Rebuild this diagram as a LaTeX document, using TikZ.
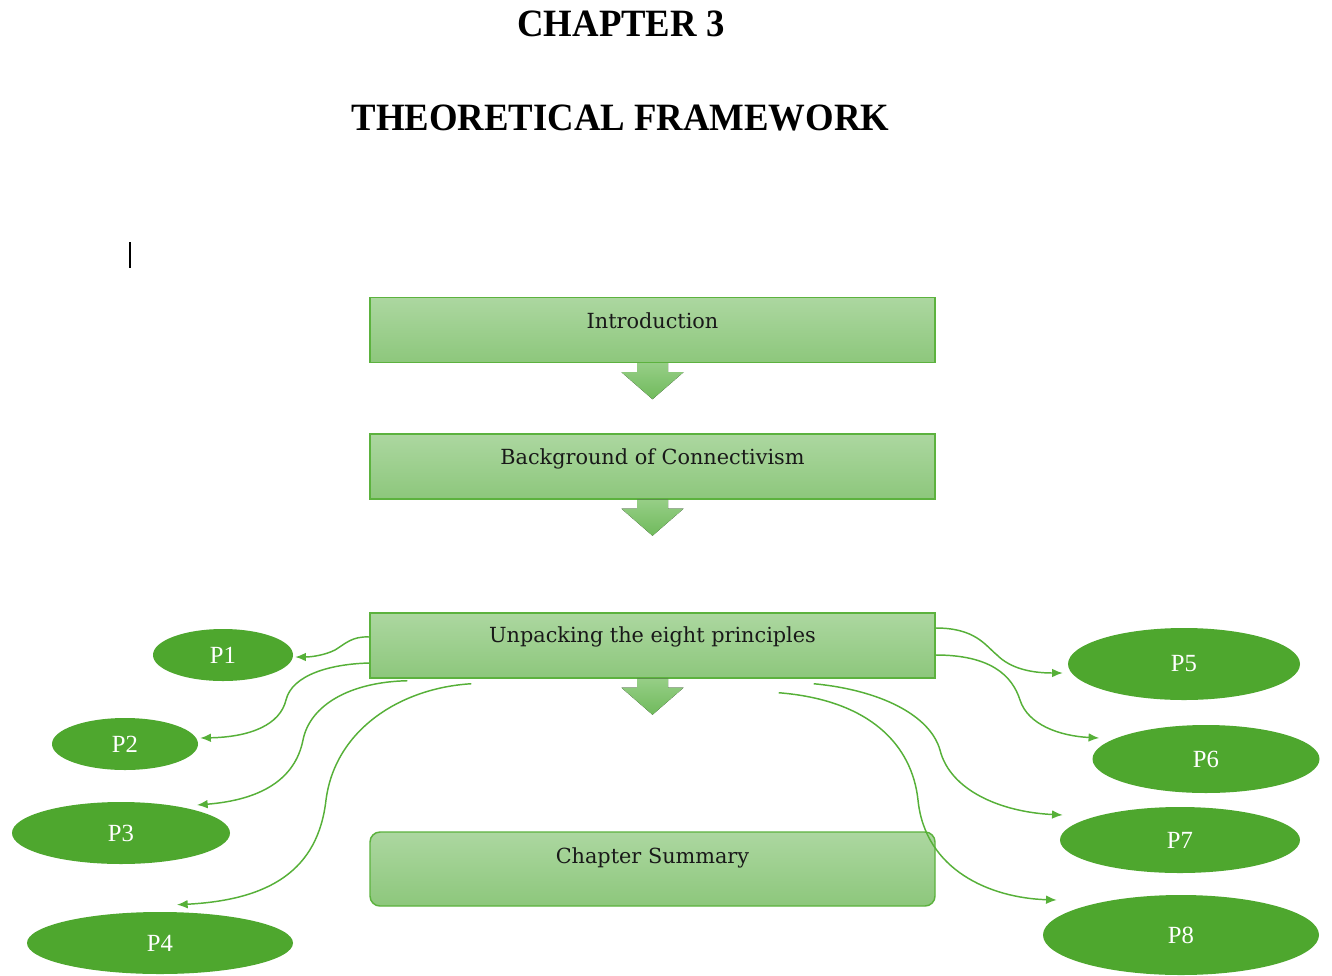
\documentclass[tikz,border=0pt]{standalone}
\usepackage{fontspec}
\setmainfont{Liberation Serif}
\newfontfamily\boxfont{DejaVu Serif}
\usetikzlibrary{arrows.meta,shapes.geometric,calc}
\definecolor{boxtop}{RGB}{172,215,160}
\definecolor{boxbot}{RGB}{141,199,124}
\definecolor{boxline}{RGB}{92,178,62}
\definecolor{ellfill}{RGB}{78,167,46}
\definecolor{conn}{RGB}{86,176,56}
\definecolor{arrtop}{RGB}{150,206,134}
\definecolor{arrbot}{RGB}{112,186,92}
\begin{document}
\begin{tikzpicture}[x=0.75pt,y=-0.75pt,
  pbox/.style={rectangle, draw=boxline, line width=1.1pt, top color=boxtop, bottom color=boxbot,
    minimum width=423.75pt, minimum height=48.75pt, inner sep=0pt},
  boxtext/.style={anchor=base, inner sep=0pt, text=black!90, font=\boxfont\fontsize{15.6}{18}\selectfont},
  titletext/.style={anchor=base, inner sep=0pt, font=\bfseries\fontsize{29}{34}\selectfont},
  pell/.style 2 args={ellipse, fill=ellfill, draw=none, inner sep=0pt,
    minimum width=#1*0.75pt, minimum height=#2*0.75pt, text=white,
    font=\fontsize{18.5}{20}\selectfont},
  conline/.style={draw=conn, line width=1.1pt, -{Latex[length=8pt,width=6.5pt]}},
  blockarrow/.style={top color=arrtop, bottom color=arrbot, draw=none}
]
\fill[white] (0,0) rectangle (1332,975);

% titles
\node[titletext] (title1) at (621,36) {\scalebox{0.95}[1]{CHAPTER 3}};
\node[titletext] (title2) at (620.5,130) {\scalebox{0.95}[1]{THEORETICAL FRAMEWORK}};

% text cursor mark
\draw[black, line width=1.4pt] (130,242) -- (130,268);

% boxes
\node[pbox] (b1) at (652.5,330) {};
\node[pbox] (b2) at (652.5,466.5) {};
\node[pbox] (b3) at (652.5,645.5) {};
\node[pbox, rounded corners=7.5pt, minimum height=55.5pt] (b4) at (652.5,869) {};

\node[boxtext] (t1) at ($(b1.north)+(0,32)$) {Introduction};
\node[boxtext] (t2) at ($(b2.north)+(0,31)$) {Background of Connectivism};
\node[boxtext] (t3) at ($(b3.north)+(0,30)$) {Unpacking the eight principles};
\node[boxtext] (t4) at ($(b4.north)+(0,32)$) {Chapter Summary};

% block arrows
\foreach \b in {b1,b2,b3}{
  \begin{scope}[shift={(\b.south)}]
    \fill[blockarrow] (-15.5,0) -- (-15.5,9) -- (-31,9) -- (0,36) -- (31,9) -- (15.5,9) -- (15.5,0) -- cycle;
  \end{scope}
}

% ellipses
\node[pell={140}{52}] (p1) at (223,655) {P1};
\node[pell={146}{52}] (p2) at (125,744) {P2};
\node[pell={218}{62}] (p3) at (121,833) {P3};
\node[pell={266}{62}] (p4) at (160,943) {P4};
\node[pell={232}{72}] (p5) at (1184,664) {P5};
\node[pell={227}{68}] (p6) at (1206,759) {P6};
\node[pell={240}{66}] (p7) at (1180,840) {P7};
\node[pell={276}{80}] (p8) at (1181,935) {P8};

% connector start/end points
\coordinate (s1) at ($(b3.west)+(0,-8.5)$);
\coordinate (s2) at ($(b3.west)+(0,17.5)$);
\coordinate (s3) at ($(b3.south west)+(38,2)$);
\coordinate (s4) at ($(b3.south west)+(102,5)$);
\coordinate (s5) at ($(b3.east)+(0,-17.5)$);
\coordinate (s6) at ($(b3.east)+(0,9.5)$);
\coordinate (s7) at ($(b3.south east)+(-122,5)$);
\coordinate (s8) at ($(b3.south east)+(-157,14)$);

\coordinate (e1) at ($(p1.east)+(2,2)$);
\coordinate (e2) at ($(p2.east)+(2,-6)$);
\coordinate (e3) at ($(p3.center)+(76,-28)$);
\coordinate (e4) at ($(p4.north)+(17,-7)$);
\coordinate (e5) at ($(p5.west)+(-5,9)$);
\coordinate (e6) at ($(p6.west)+(7,-21)$);
\coordinate (e7) at ($(p7.west)+(3,-25)$);
\coordinate (e8) at ($(p8.west)+(14,-35)$);

% connectors
\draw[conline] (s1) .. controls (352,636) and (345,644) .. (335,650) .. controls (325,655) and (312,657) .. (e1);
\draw[conline] (s2) .. controls (330,664) and (292,675) .. (286,700) .. controls (280,725) and (250,737) .. (e2);
\draw[conline] (s3) .. controls (350,682) and (310,705) .. (303,740) .. controls (295,780) and (260,800) .. (e3);
\draw[conline] (s4) .. controls (400,688) and (335,730) .. (326,800) .. controls (318,870) and (270,900) .. (e4);
\draw[conline] (s5) .. controls (975,628) and (985,645) .. (997,655) .. controls (1010,668) and (1030,673) .. (e5);
\draw[conline] (s6) .. controls (990,655) and (1012,675) .. (1020,700) .. controls (1028,725) and (1060,736) .. (e6);
\draw[conline] (s7) .. controls (880,690) and (930,715) .. (940,750) .. controls (950,790) and (1000,812) .. (e7);
\draw[conline] (s8) .. controls (870,700) and (912,745) .. (918,800) .. controls (925,870) and (990,898) .. (e8);
\end{tikzpicture}
\end{document}
